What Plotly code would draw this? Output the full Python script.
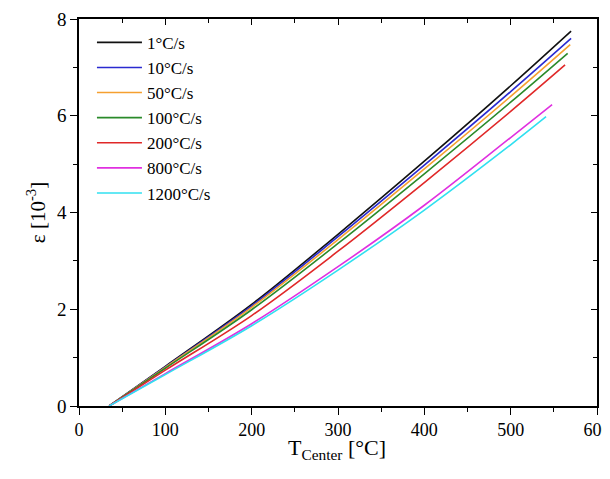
import plotly.graph_objects as go

# Temperature (°C) sample points and strain (10^-3) per heating rate
names = ["1°C/s", "10°C/s", "50°C/s", "100°C/s", "200°C/s", "800°C/s", "1200°C/s"]
colors = ["#111111", "#2a2ad0", "#f5a030", "#2a8a2a", "#e02828", "#e030e0", "#30e0f0"]

t_1 = [35, 100, 200, 300, 400, 500, 570]
e_1 = [0, 0.82, 2.10, 3.55, 5.06, 6.62, 7.75]
t_10 = [35, 100, 200, 300, 400, 500, 570]
e_10 = [0, 0.81, 2.07, 3.50, 4.98, 6.50, 7.60]
t_50 = [35, 100, 200, 300, 400, 500, 569]
e_50 = [0, 0.80, 2.04, 3.44, 4.90, 6.40, 7.47]
t_100 = [35, 100, 200, 300, 400, 500, 566]
e_100 = [0, 0.78, 1.99, 3.36, 4.80, 6.28, 7.29]
t_200 = [35, 100, 200, 300, 400, 500, 563]
e_200 = [0, 0.74, 1.87, 3.20, 4.62, 6.09, 7.05]
t_800 = [35, 100, 200, 300, 400, 500, 548]
e_800 = [0, 0.67, 1.70, 2.88, 4.15, 5.55, 6.23]
t_1200 = [35, 100, 200, 300, 400, 500, 541]
e_1200 = [0, 0.65, 1.66, 2.81, 4.05, 5.40, 5.98]

series_t = [t_1, t_10, t_50, t_100, t_200, t_800, t_1200]
series_e = [e_1, e_10, e_50, e_100, e_200, e_800, e_1200]

x_ticks = [0, 100, 200, 300, 400, 500, 600]
y_ticks = [0, 2, 4, 6, 8]

FONT = "Liberation Serif"

fig = go.Figure()
for name, col, tx, ey in zip(names, colors, series_t, series_e):
    fig.add_trace(go.Scatter(x=tx, y=ey, mode="lines", name=name,
                             line=dict(color=col, width=1.6, shape="spline", smoothing=1.0)))

# dummy trace for mirrored top/right axes
fig.add_trace(go.Scatter(x=[None], y=[None], xaxis="x2", yaxis="y2", showlegend=False))

axis_common = dict(showgrid=False, zeroline=False, showline=True, linecolor="black",
                   linewidth=1.5, tickcolor="black", tickwidth=1.2, automargin=False)

fig.update_layout(
    width=610, height=479,
    margin=dict(l=71, r=21, t=11, b=81),
    paper_bgcolor="white", plot_bgcolor="white",
    font=dict(family=FONT, color="black"),
    xaxis=dict(range=[0, 600], tickmode="array", tickvals=x_ticks,
               ticktext=[str(v) for v in x_ticks], ticks="outside", ticklen=7,
               ticklabeloverflow="allow",
               minor=dict(dtick=50, tick0=0, ticks="outside", ticklen=4, tickcolor="black", tickwidth=1.2),
               tickfont=dict(size=18, family=FONT),
               **axis_common),
    yaxis=dict(range=[0, 8], tickmode="array", tickvals=y_ticks,
               ticktext=[str(v) for v in y_ticks], ticks="outside", ticklen=7,
               minor=dict(dtick=1, tick0=0, ticks="outside", ticklen=4, tickcolor="black", tickwidth=1.2),
               tickfont=dict(size=19, family=FONT),
               title=dict(text="ε [10<sup>-3</sup>]", font=dict(size=21, family=FONT), standoff=6),
               **axis_common),
    xaxis2=dict(range=[0, 600], overlaying="x", side="top", anchor="y2", showticklabels=False,
                tickvals=x_ticks, ticks="inside", ticklen=6,
                minor=dict(dtick=50, tick0=0, ticks="inside", ticklen=4, tickcolor="black", tickwidth=1.2),
                **axis_common),
    yaxis2=dict(range=[0, 8], overlaying="y", side="right", anchor="x2", showticklabels=False,
                tickvals=y_ticks, ticks="inside", ticklen=6,
                minor=dict(dtick=1, tick0=0, ticks="inside", ticklen=4, tickcolor="black", tickwidth=1.2),
                **axis_common),
    legend=dict(x=0.025, y=0.985, xanchor="left", yanchor="top", bgcolor="rgba(0,0,0,0)",
                font=dict(size=17, family=FONT), tracegroupgap=0, itemwidth=45),
    showlegend=True,
    annotations=[dict(text="T<sub>Center</sub> [°C]", xref="paper", yref="paper",
                      x=0.498, y=0, xanchor="center", yanchor="top", yshift=-27,
                      showarrow=False, font=dict(size=22, family=FONT))],
)

fig.write_html("out.html")
